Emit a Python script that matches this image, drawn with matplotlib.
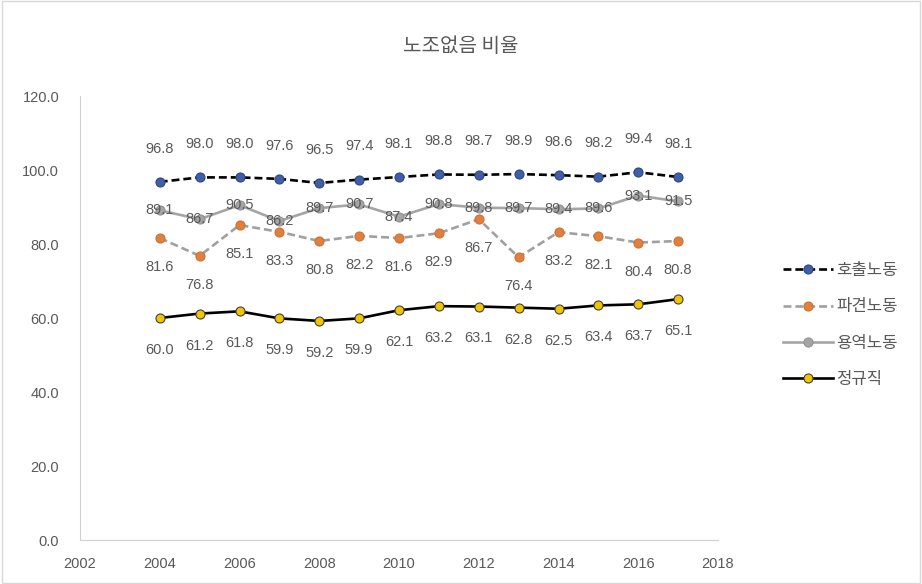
import matplotlib

matplotlib.use("Agg")
import matplotlib.pyplot as plt
from matplotlib.patches import Rectangle

plt.rcParams["font.family"] = ["Noto Sans CJK KR", "DejaVu Sans"]

years = list(range(2004, 2018))
call_work = [96.8, 98.0, 98.0, 97.6, 96.5, 97.4, 98.1, 98.8, 98.7, 98.9, 98.6, 98.2, 99.4, 98.1]
dispatch = [81.6, 76.8, 85.1, 83.3, 80.8, 82.2, 81.6, 82.9, 86.7, 76.4, 83.2, 82.1, 80.4, 80.8]
service = [89.1, 86.7, 90.5, 86.2, 89.7, 90.7, 87.4, 90.8, 89.8, 89.7, 89.4, 89.6, 93.1, 91.5]
regular = [60.0, 61.2, 61.8, 59.9, 59.2, 59.9, 62.1, 63.2, 63.1, 62.8, 62.5, 63.4, 63.7, 65.1]

TXT = "#595959"

fig = plt.figure(figsize=(9.22, 5.84), dpi=100)
ax = fig.add_axes([80 / 922, 1 - 540 / 584, 638 / 922, 444 / 584])

# series: (values, label, line color, linestyle, marker face, marker edge, label offset)
series = [
    (call_work, "호출노동", "black", (0, (3, 1.5)), "#3F5FA8", "#2F4680", 24),
    (dispatch, "파견노동", "#A0A0A0", (0, (3, 1.5)), "#E08040", "#D07030", -21),
    (service, "용역노동", "#A5A5A5", "-", "#A5A5A5", "#909090", 0),
    (regular, "정규직", "black", "-", "#F2C400", "#404040", -23),
]

for vals, name, lc, ls, mfc, mec, off in series:
    ax.plot(years, vals, color=lc, linestyle=ls, linewidth=1.9, marker="o",
            markersize=6.5, markerfacecolor=mfc, markeredgecolor=mec,
            markeredgewidth=0.8, label=name, zorder=3)
    for x, v in zip(years, vals):
        ax.annotate(f"{v:.1f}", (x, v), xytext=(0, off), textcoords="offset points",
                    ha="center", va="center", fontsize=10.5, color=TXT,
                    family=["Liberation Sans", "DejaVu Sans"], zorder=4)

ax.set_xlim(2002, 2018)
ax.set_ylim(0, 120)
ax.set_xticks(range(2002, 2019, 2))
ax.set_yticks(range(0, 121, 20))
ax.set_yticklabels([f"{t:.1f}" for t in range(0, 121, 20)])
for lab in ax.get_xticklabels() + ax.get_yticklabels():
    lab.set_family(["Liberation Sans", "DejaVu Sans"])
ax.tick_params(axis="both", length=0, labelsize=10.5, labelcolor=TXT)
ax.tick_params(axis="x", pad=12)
ax.tick_params(axis="y", pad=15)
for s in ["top", "right"]:
    ax.spines[s].set_visible(False)
ax.spines["left"].set_color("#D0D0D0")
ax.spines["bottom"].set_color("#D0D0D0")

fig.text(0.5, 1 - 47 / 584, "노조없음 비율", ha="center", va="center",
         fontsize=14.5, color=TXT)

leg = fig.legend(loc="center left", bbox_to_anchor=(768 / 922, 1 - 325 / 584),
                 frameon=False, fontsize=12, handlelength=3.0, labelspacing=1.15,
                 handletextpad=0.2)
for t in leg.get_texts():
    t.set_color(TXT)

fig.patches.append(Rectangle((0.002, 0.002), 0.996, 0.996, transform=fig.transFigure,
                             fill=False, edgecolor="#D9D9D9", linewidth=1))

fig.savefig("out.png", dpi=100)
